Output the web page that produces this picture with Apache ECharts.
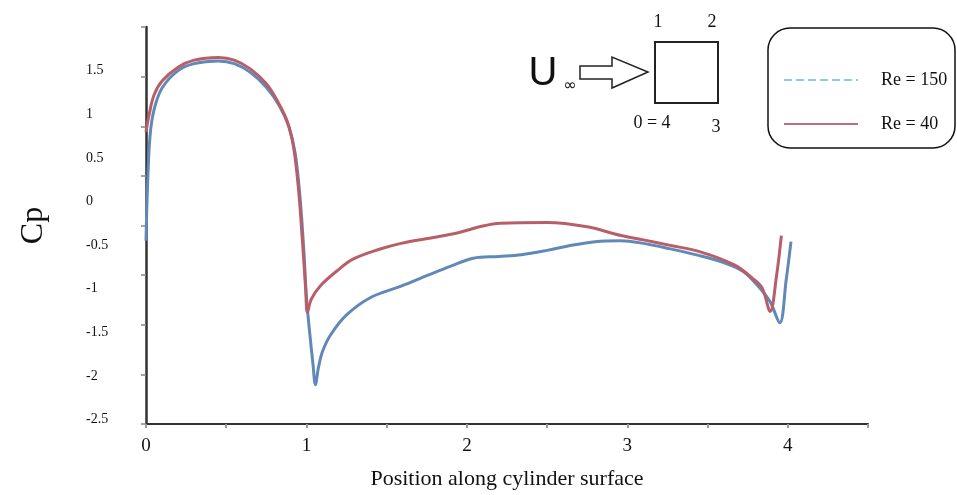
<!DOCTYPE html>
<html>
<head>
<meta charset="utf-8">
<script src="https://cdn.jsdelivr.net/npm/echarts@6/dist/echarts.min.js"></script>
<style>html,body{margin:0;padding:0;background:#fff}#c{width:957px;height:495px}</style>
</head>
<body>
<div id="c"></div>
<script>
// ---- data ----
const seriesNames = ['Re = 150', 'Re = 40'];
const xTickLabels = [0, 1, 2, 3, 4];
const yTickLabels = [-2.5, -2, -1.5, -1, -0.5, 0, 0.5, 1, 1.5];
const re150 = [
  [0.00, -0.45], [0.01, 0.20], [0.025, 0.75], [0.05, 1.05], [0.10, 1.30], [0.20, 1.50],
  [0.30, 1.58], [0.45, 1.61], [0.55, 1.58], [0.65, 1.48], [0.75, 1.31], [0.83, 1.10],
  [0.89, 0.86], [0.93, 0.55], [0.96, 0.05], [0.985, -0.60], [1.00, -1.10], [1.02, -1.50],
  [1.04, -1.85], [1.056, -2.10], [1.075, -1.90], [1.10, -1.72], [1.15, -1.53], [1.25, -1.30],
  [1.40, -1.10], [1.59, -0.97], [1.75, -0.85], [1.90, -0.74], [2.04, -0.65], [2.20, -0.63],
  [2.34, -0.61], [2.50, -0.56], [2.63, -0.51], [2.80, -0.46], [2.96, -0.45], [3.10, -0.48],
  [3.26, -0.54], [3.45, -0.62], [3.60, -0.70], [3.72, -0.80], [3.82, -0.98], [3.89, -1.15],
  [3.95, -1.39], [3.99, -0.90], [4.02, -0.46]
];
const re40 = [
  [0.00, 0.80], [0.02, 1.00], [0.05, 1.22], [0.10, 1.38], [0.20, 1.54], [0.30, 1.62],
  [0.45, 1.65], [0.55, 1.62], [0.65, 1.52], [0.75, 1.35], [0.82, 1.15], [0.88, 0.92],
  [0.92, 0.62], [0.95, 0.15], [0.975, -0.45], [0.995, -1.00], [1.006, -1.27], [1.03, -1.12],
  [1.09, -0.96], [1.20, -0.78], [1.29, -0.66], [1.45, -0.55], [1.59, -0.48], [1.80, -0.41],
  [1.94, -0.36], [2.00, -0.33], [2.10, -0.28], [2.21, -0.25], [2.50, -0.24], [2.75, -0.29],
  [2.96, -0.39], [3.10, -0.44], [3.26, -0.50], [3.46, -0.58], [3.67, -0.73], [3.78, -0.88],
  [3.84, -0.99], [3.89, -1.26], [3.93, -0.85], [3.96, -0.39]
];
// ---------------------------------------

const chart = echarts.init(document.getElementById('c'), null, {renderer: 'canvas'});
const serif = '"Liberation Serif", "DejaVu Serif", serif';
const axisColor = '#333';

chart.setOption({
  animation: false,
  backgroundColor: '#fff',
  grid: {left: 146, right: 89, top: 27, bottom: 68},
  xAxis: {
    type: 'value', min: 0, max: 4.5, interval: 0.5,
    name: 'Position along cylinder surface', nameLocation: 'middle', nameGap: 44,
    nameTextStyle: {fontFamily: serif, fontSize: 22, color: '#111'},
    axisLine: {show: true, onZero: false, lineStyle: {color: axisColor, width: 2}},
    axisTick: {show: true, length: 4, lineStyle: {color: '#999', width: 2}},
    axisLabel: {customValues: xTickLabels, fontFamily: serif, fontSize: 19, color: '#111', margin: 13},
    splitLine: {show: false}
  },
  yAxis: [{
    type: 'value', min: -2.55, max: 2.0,
    name: 'Cp', nameLocation: 'middle', nameGap: 96, nameRotate: 90,
    nameTextStyle: {fontFamily: serif, fontSize: 32, color: '#111'},
    axisLine: {show: true, onZero: false, lineStyle: {color: axisColor, width: 2.5}},
    axisTick: {show: false},
    axisLabel: {customValues: yTickLabels, fontFamily: serif, fontSize: 14, color: '#111', align: 'left', margin: 60, padding: [5, 0, 0, 0]},
    splitLine: {show: false}
  }, {
    type: 'value', min: 0, max: 8, interval: 1, position: 'left',
    axisLine: {show: false},
    axisTick: {show: true, length: 5, lineStyle: {color: '#888', width: 1.5}},
    axisLabel: {show: false},
    splitLine: {show: false}
  }],
  legend: {
    orient: 'vertical', left: 778, top: 66, itemWidth: 74, itemHeight: 14, itemGap: 26,
    textStyle: {fontFamily: serif, fontSize: 18, color: '#111', padding: [0, 0, 0, 18]},
    itemStyle: {opacity: 0},
    data: [
      {name: seriesNames[0], itemStyle: {opacity: 0}, lineStyle: {color: '#8ccbe6', type: 'dashed', width: 2}},
      {name: seriesNames[1], itemStyle: {opacity: 0}, lineStyle: {color: '#b8707a', type: 'solid', width: 2}}
    ]
  },
  series: [{
    name: seriesNames[0], type: 'line', data: re150, symbol: 'none',
    smooth: 0.35,
    lineStyle: {color: '#6089b8', width: 3}, itemStyle: {color: '#6089b8'}
  }, {
    name: seriesNames[1], type: 'line', data: re40, symbol: 'none',
    smooth: 0.35,
    lineStyle: {color: '#b85e68', width: 3}, itemStyle: {color: '#b85e68'}
  }],
  graphic: [
    {type: 'rect', shape: {x: 768, y: 28, width: 187, height: 120, r: 22},
     style: {fill: 'none', stroke: '#111', lineWidth: 1.5}, silent: true},
    {type: 'text', x: 543, y: 74, style: {text: 'U', font: '40px "Liberation Sans", sans-serif', fill: '#111', align: 'center', verticalAlign: 'middle'}},
    {type: 'text', x: 570, y: 86, style: {text: '∞', font: '16px "DejaVu Sans", sans-serif', fill: '#111', align: 'center', verticalAlign: 'middle'}},
    {type: 'polygon', shape: {points: [[580, 66], [612, 66], [612, 57], [648, 72], [612, 88], [612, 79], [580, 79]]},
     style: {fill: '#fff', stroke: '#222', lineWidth: 1.5}},
    {type: 'rect', shape: {x: 655, y: 42, width: 63, height: 61}, style: {fill: 'none', stroke: '#222', lineWidth: 2}},
    {type: 'text', x: 658, y: 22, style: {text: '1', font: '18px ' + serif, fill: '#111', align: 'center', verticalAlign: 'middle'}},
    {type: 'text', x: 712, y: 22, style: {text: '2', font: '18px ' + serif, fill: '#111', align: 'center', verticalAlign: 'middle'}},
    {type: 'text', x: 652, y: 123, style: {text: '0 = 4', font: '18px ' + serif, fill: '#111', align: 'center', verticalAlign: 'middle'}},
    {type: 'text', x: 716, y: 127, style: {text: '3', font: '18px ' + serif, fill: '#111', align: 'center', verticalAlign: 'middle'}}
  ]
});
</script>
</body>
</html>
